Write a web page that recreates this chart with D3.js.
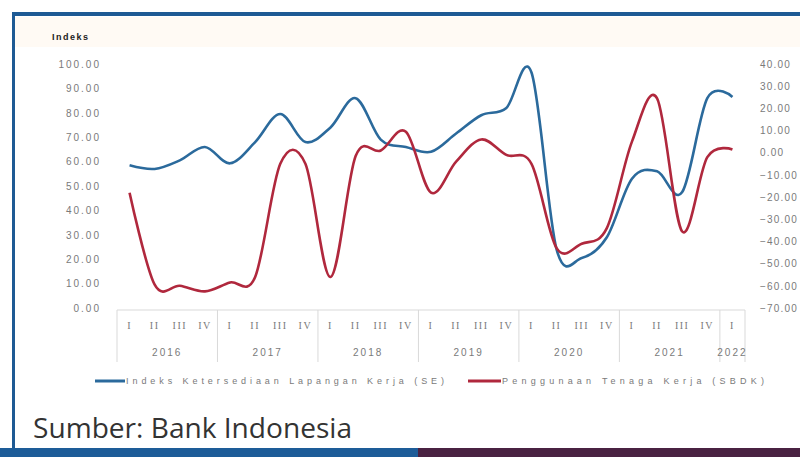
<!DOCTYPE html>
<html><head><meta charset="utf-8">
<script src="https://cdn.jsdelivr.net/npm/d3@7"></script>
<style>html,body{margin:0;padding:0;background:#fff;}svg{display:block;}</style>
</head><body>
<svg id="c" width="800" height="457"></svg>
<script>
const quarters = ["I","II","III","IV","I","II","III","IV","I","II","III","IV","I","II","III","IV","I","II","III","IV","I","II","III","IV","I"];
const years = ["2016","2017","2018","2019","2020","2021","2022"];
const yearSpans = [4,4,4,4,4,4,1];
const seValues = [58.5,57,60.5,66,59.3,68,79.5,68,74,86,69,66,64,71.5,79,82,96.5,24,20.5,29,53,56,47.5,86,86.5];
const sbdkValues = [-18,-59.5,-60,-62.5,-58.5,-56,-5,-5,-56,-1.5,1,9.5,-18,-4,6,-1,-5,-43,-41,-34,5,24.5,-35.5,-2,1.5];
const leftTicks = [0,10,20,30,40,50,60,70,80,90,100];
const rightTicks = [40,30,20,10,0,-10,-20,-30,-40,-50,-60,-70];
const seriesNames = ["Indeks Ketersediaan Lapangan Kerja (SE)","Penggunaan Tenaga Kerja (SBDK)"];

const svg = d3.select("#c");
const blue = "#2b6a9c", red = "#b0283d";

// frame
svg.append("rect").attr("x",12).attr("y",17).attr("width",788).attr("height",30).attr("fill","#fffaf4");
svg.append("rect").attr("x",12).attr("y",12).attr("width",788).attr("height",4).attr("fill","#1e5a94");
svg.append("rect").attr("x",12).attr("y",12).attr("width",3).attr("height",436).attr("fill","#1e5a94");
svg.append("rect").attr("x",0).attr("y",448).attr("width",418).attr("height",9).attr("fill","#1d5c98");
svg.append("rect").attr("x",418).attr("y",448).attr("width",382).attr("height",9).attr("fill","#4a2242");

const idx = d3.range(quarters.length);
const x = d3.scaleBand().domain(idx).range([117,745]).padding(0);
const yL = d3.scaleLinear().domain([0,100]).range([308,64]);
const yR = d3.scaleLinear().domain([-70,40]).range([308,64]);

const lab = {fill:"#7a7a7a", size:"10px"};
// left axis
const gl = svg.append("g").attr("transform","translate(101,0)")
  .call(d3.axisLeft(yL).tickValues(leftTicks).tickFormat(d3.format(".2f")).tickSize(0).tickPadding(0));
gl.select(".domain").remove();
gl.selectAll("text").attr("fill",lab.fill).style("font-family","Liberation Sans, Arial, sans-serif")
  .style("font-size",lab.size).style("letter-spacing","2px");

// right axis
const gr = svg.append("g").attr("transform","translate(760,0)")
  .call(d3.axisRight(yR).tickValues(rightTicks).tickFormat(d3.format(".2f")).tickSize(0).tickPadding(0));
gr.select(".domain").remove();
gr.selectAll("text").attr("fill",lab.fill).style("font-family","Liberation Sans, Arial, sans-serif")
  .style("font-size",lab.size).style("letter-spacing","1.2px");

// category axis
svg.append("line").attr("x1",117).attr("x2",745).attr("y1",310).attr("y2",310).attr("stroke","#d9d9d9");
let start = 0;
const bounds = [0];
yearSpans.forEach(s=>{start+=s; bounds.push(start);});
bounds.forEach(b=>{
  const xx = b<quarters.length ? x(b) : x(quarters.length-1)+x.bandwidth();
  svg.append("line").attr("x1",xx).attr("x2",xx).attr("y1",310).attr("y2",362).attr("stroke","#d9d9d9");
});
svg.append("g").selectAll("text").data(quarters).join("text")
  .attr("x",(d,i)=>x(i)+x.bandwidth()/2).attr("y",329).attr("text-anchor","middle")
  .attr("fill",lab.fill).style("font-family","Liberation Serif, Times New Roman, serif").style("font-size","10px")
  .style("letter-spacing","1.5px").text(d=>d);
svg.append("g").selectAll("text").data(years).join("text")
  .attr("x",(d,i)=>{const a=x(bounds[i]); const e=bounds[i+1]<quarters.length?x(bounds[i+1]):x(quarters.length-1)+x.bandwidth(); return (a+e)/2;})
  .attr("y",356).attr("text-anchor","middle")
  .attr("fill",lab.fill).style("font-family","Liberation Sans, Arial, sans-serif").style("font-size","10px")
  .style("letter-spacing","2px").text(d=>d);

// Indeks label
svg.append("text").attr("x",52).attr("y",40).attr("fill","#222").style("font-family","Liberation Sans, Arial, sans-serif")
  .style("font-size","9px").style("font-weight","bold").style("letter-spacing","1.5px").text("Indeks");

// lines
const cx = i=>x(i)+x.bandwidth()/2;
const curve = d3.curveCardinal.tension(0);
svg.append("path").datum(seValues).attr("fill","none").attr("stroke",blue).attr("stroke-width",2.6)
  .attr("d",d3.line().x((d,i)=>cx(i)).y(d=>yL(d)).curve(curve));
svg.append("path").datum(sbdkValues).attr("fill","none").attr("stroke",red).attr("stroke-width",2.6)
  .attr("d",d3.line().x((d,i)=>cx(i)).y(d=>yR(d)).curve(curve));

// legend
const lg = svg.append("g");
lg.append("line").attr("x1",95).attr("x2",125).attr("y1",381).attr("y2",381).attr("stroke",blue).attr("stroke-width",3);
lg.append("text").attr("x",126).attr("y",384).attr("fill","#7a7a7a").style("font-family","Liberation Sans, Arial, sans-serif")
  .style("font-size","9px").attr("textLength",318).attr("lengthAdjust","spacing").text(seriesNames[0]);
lg.append("line").attr("x1",468).attr("x2",501).attr("y1",381).attr("y2",381).attr("stroke",red).attr("stroke-width",3);
lg.append("text").attr("x",502).attr("y",384).attr("fill","#7a7a7a").style("font-family","Liberation Sans, Arial, sans-serif")
  .style("font-size","9px").attr("textLength",262).attr("lengthAdjust","spacing").text(seriesNames[1]);

// source
svg.append("text").attr("x",33).attr("y",438).attr("fill","#333").style("font-family","Open Sans, Noto Sans, sans-serif")
  .style("font-size","27px").attr("textLength",319).attr("lengthAdjust","spacingAndGlyphs").text("Sumber: Bank Indonesia");
</script>
</body></html>
